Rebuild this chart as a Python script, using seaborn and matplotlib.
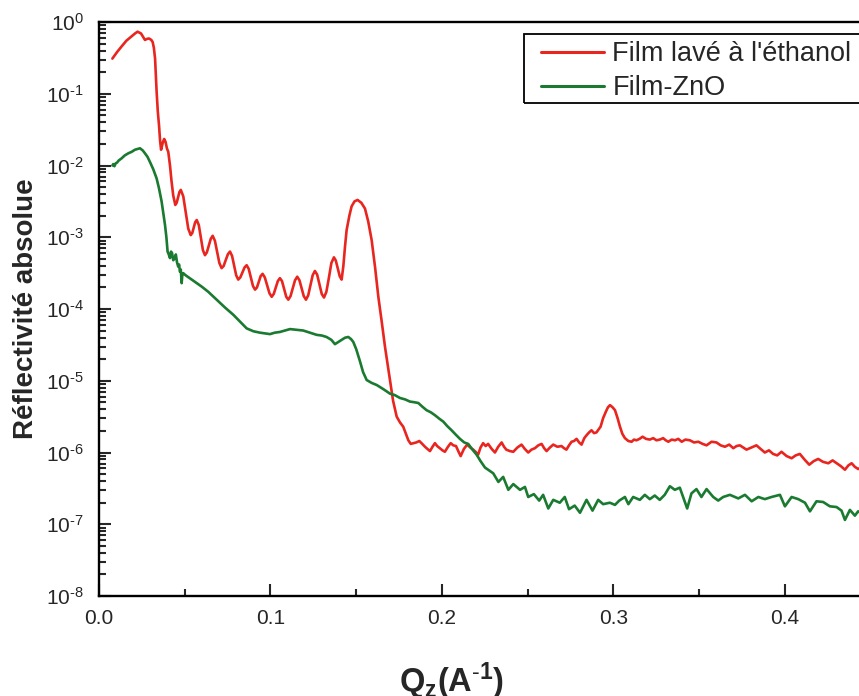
import numpy as np
import pandas as pd
import matplotlib
matplotlib.use("Agg")
import matplotlib.pyplot as plt
import seaborn as sns
from matplotlib.lines import Line2D
from matplotlib.patches import Rectangle
from matplotlib.legend_handler import HandlerLine2D
from matplotlib.ticker import LogLocator, MultipleLocator, NullFormatter, FuncFormatter

# values, stored as decades (log10 of the reflectivity)
# Film lavé à l'éthanol (red)
q_ethanol = [0.0078, 0.0105, 0.0132, 0.0160, 0.0190, 0.0210, 0.0225, 0.0245, 0.0258, 0.0268,
             0.0280, 0.0292, 0.0305, 0.0313, 0.0320, 0.0327, 0.0336, 0.0343, 0.0350, 0.0356,
             0.0362, 0.0372, 0.0380, 0.0388, 0.0396, 0.0404, 0.0414, 0.0423, 0.0433, 0.0445,
             0.0453, 0.0461, 0.0469, 0.0477, 0.04915, 0.0506, 0.05205, 0.0535, 0.0544, 0.05525,
             0.0561, 0.0570, 0.0582, 0.0594, 0.0606, 0.0618, 0.0629, 0.06405, 0.0652, 0.0663,
             0.0676, 0.0689, 0.0702, 0.0715, 0.0727, 0.07395, 0.0752, 0.0764, 0.0776, 0.0788,
             0.0800, 0.0812, 0.0824, 0.08365, 0.0849, 0.0861, 0.0873, 0.08855, 0.0898, 0.0910,
             0.0921, 0.0932, 0.0943, 0.0954, 0.0967, 0.09805, 0.0994, 0.1007, 0.1019, 0.1031,
             0.1043, 0.1055, 0.1067, 0.10795, 0.1092, 0.1104, 0.1117, 0.1130, 0.1143, 0.1156,
             0.1169, 0.11815, 0.1194, 0.1207, 0.1220, 0.1233, 0.1246, 0.1259, 0.1272, 0.12855,
             0.1299, 0.1312, 0.1326, 0.1341, 0.1355, 0.1370, 0.1381, 0.13925, 0.1404, 0.1415,
             0.1425, 0.1435, 0.1444, 0.1460, 0.1473, 0.1490, 0.1508, 0.1530, 0.1551, 0.1570,
             0.1590, 0.1610, 0.1629, 0.1650, 0.1668, 0.1697, 0.1715, 0.1736, 0.1755, 0.1774,
             0.1804, 0.1818, 0.1833, 0.1850, 0.1868, 0.1885, 0.1901, 0.1915, 0.1930, 0.1945,
             0.1959, 0.1972, 0.1988, 0.2003, 0.2017, 0.2035, 0.2051, 0.2066, 0.2082, 0.2095,
             0.2109, 0.2128, 0.2147, 0.2165, 0.2182, 0.2196, 0.2211, 0.2225, 0.2240, 0.2255,
             0.2269, 0.2290, 0.2309, 0.2328, 0.2348, 0.2362, 0.2375, 0.2396, 0.2416, 0.2440,
             0.2464, 0.2483, 0.2503, 0.2522, 0.2542, 0.2562, 0.2581, 0.2596, 0.2610, 0.2630,
             0.2649, 0.2673, 0.2697, 0.2712, 0.2726, 0.2741, 0.2756, 0.2770, 0.2785, 0.2800,
             0.2814, 0.2830, 0.2843, 0.2858, 0.2872, 0.2887, 0.2901, 0.2913, 0.2925, 0.2940,
             0.2956, 0.2968, 0.2980, 0.2995, 0.3009, 0.3024, 0.3038, 0.3052, 0.3067, 0.3087,
             0.3106, 0.3120, 0.3134, 0.3152, 0.3170, 0.3190, 0.3212, 0.3232, 0.3251, 0.3270,
             0.3290, 0.3305, 0.3320, 0.3340, 0.3359, 0.3378, 0.3398, 0.3420, 0.3446, 0.3470,
             0.3495, 0.3520, 0.3543, 0.3572, 0.3601, 0.3625, 0.3650, 0.3675, 0.3699, 0.3718,
             0.3737, 0.3757, 0.3776, 0.3805, 0.3834, 0.3858, 0.3883, 0.3907, 0.3931, 0.3955,
             0.3980, 0.4010, 0.4039, 0.4063, 0.4087, 0.4115, 0.4142, 0.4168, 0.4194, 0.4222,
             0.4253, 0.4278, 0.4302, 0.4326, 0.4350, 0.4370, 0.4389, 0.4408, 0.4427, 0.4450]
log_r_ethanol = [-0.51, -0.42, -0.34, -0.26, -0.20, -0.16, -0.135, -0.16, -0.21, -0.25,
                 -0.235, -0.23, -0.25, -0.28, -0.36, -0.51, -0.97, -1.25, -1.44, -1.65,
                 -1.78, -1.68, -1.63, -1.67, -1.76, -1.81, -2.00, -2.22, -2.42, -2.55,
                 -2.52, -2.445, -2.37, -2.34, -2.43, -2.655, -2.88, -2.97, -2.94, -2.865,
                 -2.79, -2.76, -2.83, -3.005, -3.18, -3.25, -3.21, -3.115, -3.02, -2.98,
                 -3.05, -3.205, -3.36, -3.43, -3.40, -3.315, -3.235, -3.20, -3.26, -3.395,
                 -3.53, -3.59, -3.56, -3.49, -3.42, -3.39, -3.44, -3.56, -3.68, -3.73,
                 -3.70, -3.62, -3.54, -3.51, -3.56, -3.67, -3.78, -3.83, -3.79, -3.70,
                 -3.61, -3.57, -3.61, -3.72, -3.83, -3.87, -3.82, -3.71, -3.60, -3.55,
                 -3.60, -3.71, -3.82, -3.87, -3.81, -3.67, -3.53, -3.47, -3.52, -3.655,
                 -3.79, -3.84, -3.76, -3.56, -3.36, -3.28, -3.325, -3.435, -3.545, -3.59,
                 -3.40, -3.12, -2.90, -2.70, -2.57, -2.50, -2.48, -2.52, -2.60, -2.78,
                 -3.04, -3.42, -3.83, -4.20, -4.53, -4.99, -5.28, -5.50, -5.58, -5.64,
                 -5.83, -5.88, -5.87, -5.86, -5.84, -5.88, -5.92, -5.95, -5.98, -5.92,
                 -5.87, -5.91, -5.94, -5.97, -5.99, -5.92, -5.87, -5.90, -5.91, -5.98,
                 -6.05, -5.95, -5.89, -5.93, -5.96, -5.99, -6.03, -5.93, -5.87, -5.91,
                 -5.88, -5.95, -6.00, -5.92, -5.86, -5.92, -5.96, -5.98, -5.99, -5.93,
                 -5.89, -5.95, -6.00, -5.96, -5.94, -5.90, -5.88, -5.94, -5.98, -5.93,
                 -5.89, -5.92, -5.91, -5.94, -5.96, -5.90, -5.85, -5.84, -5.81, -5.86,
                 -5.89, -5.80, -5.76, -5.72, -5.69, -5.73, -5.72, -5.68, -5.64, -5.52,
                 -5.43, -5.37, -5.34, -5.37, -5.41, -5.52, -5.64, -5.74, -5.80, -5.84,
                 -5.85, -5.82, -5.83, -5.81, -5.78, -5.81, -5.82, -5.80, -5.83, -5.82,
                 -5.80, -5.83, -5.85, -5.82, -5.83, -5.81, -5.85, -5.82, -5.83, -5.86,
                 -5.85, -5.88, -5.90, -5.85, -5.86, -5.90, -5.92, -5.89, -5.94, -5.91,
                 -5.90, -5.93, -5.96, -5.93, -5.90, -5.95, -6.00, -5.97, -6.02, -6.04,
                 -5.99, -6.05, -6.08, -6.04, -6.02, -6.10, -6.17, -6.12, -6.09, -6.13,
                 -6.15, -6.11, -6.15, -6.19, -6.24, -6.18, -6.15, -6.20, -6.23, -6.20]

# Film-ZnO (green)
q_zno = [0.0078, 0.0083, 0.0090, 0.0097, 0.0105, 0.0115, 0.0132, 0.0150, 0.0171, 0.0190,
         0.0210, 0.0225, 0.0239, 0.0255, 0.0268, 0.0283, 0.0297, 0.0316, 0.0336, 0.0350,
         0.0365, 0.0375, 0.0385, 0.0393, 0.0400, 0.0407, 0.0414, 0.0420, 0.0426, 0.0433,
         0.0440, 0.0448, 0.0455, 0.0462, 0.0467, 0.0472, 0.0477, 0.0482, 0.0486, 0.0491,
         0.0500, 0.0511, 0.0535, 0.0560, 0.0600, 0.0637, 0.0686, 0.0735, 0.0783, 0.0820,
         0.0861, 0.0900, 0.0939, 0.0970, 0.0997, 0.1025, 0.1055, 0.1085, 0.1114, 0.1150,
         0.1191, 0.1230, 0.1269, 0.1300, 0.1327, 0.1355, 0.1376, 0.1395, 0.1415, 0.1435,
         0.1454, 0.1470, 0.1483, 0.1500, 0.1522, 0.1540, 0.1561, 0.1590, 0.1620, 0.1660,
         0.1697, 0.1725, 0.1755, 0.1785, 0.1813, 0.1840, 0.1862, 0.1885, 0.1910, 0.1935,
         0.1959, 0.1985, 0.2008, 0.2030, 0.2056, 0.2080, 0.2105, 0.2130, 0.2153, 0.2178,
         0.2202, 0.2225, 0.2251, 0.2275, 0.2299, 0.2329, 0.2357, 0.2387, 0.2416, 0.2455,
         0.2484, 0.2503, 0.2536, 0.2567, 0.2590, 0.2620, 0.2649, 0.2687, 0.2716, 0.2741,
         0.2774, 0.2805, 0.2843, 0.2878, 0.2911, 0.2940, 0.2979, 0.3009, 0.3034, 0.3067,
         0.3087, 0.3115, 0.3154, 0.3183, 0.3212, 0.3241, 0.3270, 0.3299, 0.3329, 0.3358,
         0.3387, 0.3430, 0.3455, 0.3484, 0.3513, 0.3543, 0.3582, 0.3611, 0.3640, 0.3679,
         0.3728, 0.3767, 0.3806, 0.3845, 0.3883, 0.3922, 0.3971, 0.4000, 0.4039, 0.4078,
         0.4117, 0.4146, 0.4184, 0.4223, 0.4262, 0.4301, 0.4330, 0.4350, 0.4379, 0.4408,
         0.4427, 0.4450]
log_r_zno = [-2.00, -1.98, -2.01, -1.97, -1.96, -1.93, -1.90, -1.86, -1.83, -1.81,
             -1.78, -1.77, -1.76, -1.79, -1.83, -1.88, -1.95, -2.05, -2.18, -2.32,
             -2.50, -2.66, -2.83, -3.00, -3.20, -3.24, -3.29, -3.20, -3.22, -3.32,
             -3.30, -3.24, -3.35, -3.41, -3.38, -3.48, -3.45, -3.64, -3.52, -3.50,
             -3.52, -3.54, -3.58, -3.62, -3.69, -3.76, -3.87, -3.98, -4.08, -4.17,
             -4.27, -4.31, -4.33, -4.34, -4.35, -4.33, -4.32, -4.30, -4.28, -4.29,
             -4.30, -4.33, -4.36, -4.37, -4.39, -4.43, -4.49, -4.46, -4.43, -4.40,
             -4.39, -4.42, -4.46, -4.56, -4.73, -4.88, -4.99, -5.03, -5.06, -5.12,
             -5.18, -5.20, -5.24, -5.26, -5.29, -5.30, -5.31, -5.36, -5.41, -5.44,
             -5.48, -5.53, -5.57, -5.63, -5.69, -5.75, -5.81, -5.86, -5.88, -5.96,
             -6.03, -6.12, -6.21, -6.25, -6.29, -6.41, -6.34, -6.52, -6.44, -6.52,
             -6.48, -6.62, -6.58, -6.67, -6.59, -6.78, -6.66, -6.70, -6.62, -6.79,
             -6.74, -6.84, -6.66, -6.81, -6.66, -6.72, -6.70, -6.73, -6.67, -6.62,
             -6.72, -6.62, -6.66, -6.59, -6.65, -6.60, -6.66, -6.59, -6.47, -6.52,
             -6.49, -6.78, -6.57, -6.51, -6.62, -6.51, -6.62, -6.67, -6.62, -6.59,
             -6.64, -6.59, -6.68, -6.62, -6.65, -6.62, -6.59, -6.75, -6.62, -6.65,
             -6.70, -6.82, -6.68, -6.69, -6.75, -6.76, -6.81, -6.94, -6.80, -6.88,
             -6.82, -6.85]

labels = ["Film lavé à l'éthanol", "Film-ZnO"]
colors = {labels[0]: "#e8251f", labels[1]: "#197a30"}

df = pd.concat([
    pd.DataFrame({"q": q_ethanol, "r": 10.0 ** np.array(log_r_ethanol), "film": labels[0]}),
    pd.DataFrame({"q": q_zno, "r": 10.0 ** np.array(log_r_zno), "film": labels[1]}),
])

sns.set_style("ticks")
plt.rcParams["font.family"] = ["Liberation Sans", "DejaVu Sans"]
plt.rcParams["mathtext.fontset"] = "custom"
plt.rcParams["mathtext.rm"] = "Liberation Sans"
plt.rcParams["mathtext.bf"] = "Liberation Sans:bold"
plt.rcParams["axes.unicode_minus"] = False

fig = plt.figure(figsize=(8.59, 6.96), dpi=100)
ax = fig.add_axes([99 / 859, 1 - 596 / 696, 1 - 99 / 859, 574 / 696])

sns.lineplot(data=df, x="q", y="r", hue="film", palette=colors, estimator=None,
             sort=False, linewidth=1.9, ax=ax)

ax.set_yscale("log")
ax.set_ylim(1e-8, 1e0)
ax.set_xlim(0, 0.4432)


def decade_label(v, pos):
    e = int(round(np.log10(v)))
    s = r"\text{-}%d" % -e if e < 0 else "%d" % e
    return r"$\mathdefault{10^{%s}}$" % s


ax.xaxis.set_major_locator(MultipleLocator(0.1))
ax.xaxis.set_minor_locator(MultipleLocator(0.05))
ax.yaxis.set_major_locator(LogLocator(base=10, numticks=20))
ax.yaxis.set_major_formatter(FuncFormatter(decade_label))
ax.yaxis.set_minor_locator(LogLocator(base=10, subs=np.arange(2, 10), numticks=20))
ax.yaxis.set_minor_formatter(NullFormatter())

ax.tick_params(which="both", direction="in", top=False, right=False, width=1.5)
ax.tick_params(axis="x", labelsize=15, pad=9)
ax.tick_params(axis="y", labelsize=15, pad=11)
ax.tick_params(which="major", length=8.5)
ax.tick_params(which="minor", length=5)

for side in ["left", "bottom", "top"]:
    ax.spines[side].set_linewidth(1.7)
    ax.spines[side].set_color("black")
ax.spines["right"].set_visible(False)

ax.set_ylabel("Réflectivité absolue", fontsize=20, fontweight="bold")
ax.yaxis.set_label_coords(-0.079, 0.5)
ax.set_xlabel(r"$\mathbf{Q_z(A^{\text{-}1})}$", fontsize=23.5)
ax.xaxis.set_label_coords(0.4645, -0.112)

leg = ax.legend(loc="upper left", bbox_to_anchor=(0.559, 0.979), borderaxespad=0,
                fontsize=19.5, frameon=False, borderpad=0.27, labelspacing=0.3,
                handlelength=2.7, handletextpad=0.3,
                handler_map={Line2D: HandlerLine2D(xpad=0.37)}, title=None)
for line in leg.get_lines():
    line.set_linewidth(2.2)

# legend box runs past the right edge of the picture, as in the original
ax.add_patch(Rectangle((0.559, 0.859), 0.5, 0.12, transform=ax.transAxes, fill=False,
                       edgecolor="black", linewidth=1.3, clip_on=False, zorder=5))

fig.savefig("out.png", dpi=100)
